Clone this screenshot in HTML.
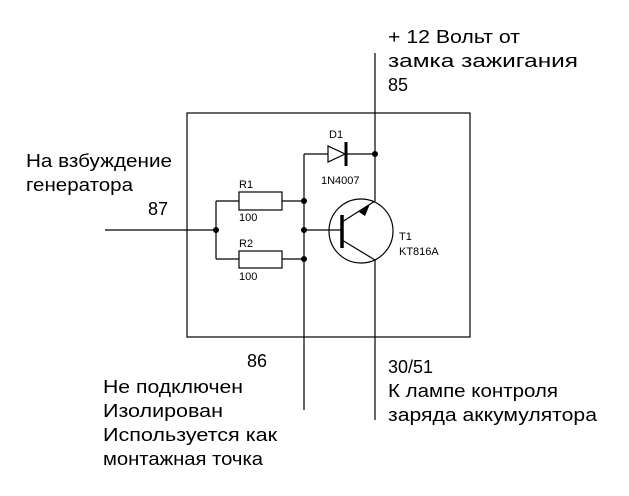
<!DOCTYPE html>
<html><head><meta charset="utf-8"><style>
html,body{margin:0;padding:0;background:#fff;width:629px;height:496px;overflow:hidden}
svg text{font-family:"Liberation Sans","DejaVu Sans",sans-serif;fill:#000}
</style></head><body>
<svg width="629" height="496" viewBox="0 0 629 496" xmlns="http://www.w3.org/2000/svg">
<g stroke="#000" stroke-width="1.2" fill="none">
<rect x="187" y="113" width="283" height="224"/>
<line x1="375" y1="53" x2="375" y2="201"/>
<line x1="375" y1="260" x2="375" y2="420"/>
<line x1="304" y1="154" x2="304" y2="410"/>
<line x1="304" y1="154" x2="328" y2="154"/>
<line x1="346" y1="154" x2="375" y2="154"/>
<polygon points="328,146 328,162 345,154"/>
<line x1="105" y1="230" x2="216" y2="230"/>
<line x1="216" y1="201" x2="216" y2="259"/>
<line x1="216" y1="201" x2="239" y2="201"/>
<line x1="282" y1="201" x2="304" y2="201"/>
<line x1="216" y1="259" x2="239" y2="259"/>
<line x1="282" y1="259" x2="304" y2="259"/>
<rect x="239" y="192" width="43" height="18"/>
<rect x="239" y="251" width="43" height="17"/>
<line x1="304" y1="230" x2="342" y2="230"/>
<circle cx="361" cy="231" r="32"/>
<line x1="342" y1="222" x2="375" y2="201"/>
<line x1="342" y1="240" x2="375" y2="260"/>
</g>
<line x1="346" y1="142" x2="346" y2="166" stroke="#000" stroke-width="3"/>
<line x1="342" y1="215" x2="342" y2="248" stroke="#000" stroke-width="3.5"/>
<polygon points="359,212 370,204 365,216" fill="#000"/>
<g fill="#000">
<circle cx="375" cy="154" r="3"/>
<circle cx="304" cy="201" r="3"/>
<circle cx="304" cy="230" r="3"/>
<circle cx="304" cy="259" r="3"/>
<circle cx="216" cy="230" r="3"/>
</g>
<g font-size="11">
<text x="329" y="138">D1</text>
<text x="321" y="184">1N4007</text>
<text x="239" y="188">R1</text>
<text x="239" y="221">100</text>
<text x="239" y="247">R2</text>
<text x="239" y="280">100</text>
<text x="399" y="240">T1</text>
<text x="399" y="255">KT816A</text>
</g>
<g font-size="18">
<text x="388" y="43" textLength="132" lengthAdjust="spacingAndGlyphs">+ 12 Вольт от</text>
<text x="388" y="67" textLength="190" lengthAdjust="spacingAndGlyphs">замка зажигания</text>
<text x="388" y="91">85</text>
<text x="26" y="167" textLength="146" lengthAdjust="spacingAndGlyphs">На взбуждение</text>
<text x="26" y="191" textLength="107" lengthAdjust="spacingAndGlyphs">генератора</text>
<text x="148" y="215">87</text>
<text x="247" y="367">86</text>
<text x="103" y="393" textLength="140" lengthAdjust="spacingAndGlyphs">Не подключен</text>
<text x="103" y="417" textLength="120" lengthAdjust="spacingAndGlyphs">Изолирован</text>
<text x="103" y="441" textLength="174" lengthAdjust="spacingAndGlyphs">Используется как</text>
<text x="103" y="465" textLength="160" lengthAdjust="spacingAndGlyphs">монтажная точка</text>
<text x="388" y="373">30/51</text>
<text x="388" y="397" textLength="170" lengthAdjust="spacingAndGlyphs">К лампе контроля</text>
<text x="388" y="421" textLength="209" lengthAdjust="spacingAndGlyphs">заряда аккумулятора</text>
</g>
</svg>
</body></html>
